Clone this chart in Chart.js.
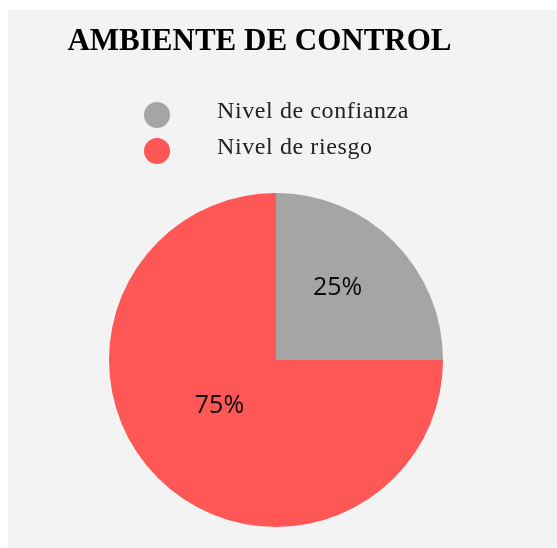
<!DOCTYPE html>
<html>
<head>
<meta charset="utf-8">
<script src="https://cdn.jsdelivr.net/npm/chart.js@4/dist/chart.umd.min.js"></script>
<style>
    body { margin: 0; background: #fff; }
    #box { position: absolute; left: 8px; top: 10px; width: 549px; height: 538px; background: #f3f3f3; }
    #titulo { position: absolute; left: 0; top: 24px; width: 519px; text-align: center;
        font: bold 31px "Liberation Serif", serif; line-height: 31px; color: #000; }
    .dot { position: absolute; left: 144px; width: 26px; height: 26px; border-radius: 50%; }
    .txt { position: absolute; left: 217px; white-space: nowrap; font: 24px "Liberation Serif", serif;
        line-height: 24px; letter-spacing: 0.6px; color: #222; }
    canvas { position: absolute; left: 0; top: 0; }
</style>
</head>
<body>
<div id="box"><canvas id="myChart" width="549" height="538"></canvas></div>
<div id="titulo"></div>
<div id="leyenda"></div>
<script>
    const titulo = 'AMBIENTE DE CONTROL';
    const etiquetas = ['Nivel de confianza', 'Nivel de riesgo'];
    const valores = [25, 75];
    const colores = ['#a5a5a5', '#ff5656'];

    // leyenda en html, alineada a la izquierda
    const leyenda = document.getElementById('leyenda');
    etiquetas.forEach((et, i) => {
        const top = 102 + i * 36;
        leyenda.innerHTML += '<div class="dot" style="top:' + top + 'px;background:' + colores[i] + '"></div>' +
            '<div class="txt" style="top:' + (top - 3.6) + 'px">' + et + '</div>';
    });
    document.getElementById('titulo').textContent = titulo;

    // porcentajes dentro de cada sector
    const porcentajes = {
        id: 'porcentajes',
        afterDatasetsDraw(chart) {
            const ctx = chart.ctx;
            const total = valores.reduce((a, b) => a + b, 0);
            ctx.save();
            ctx.font = '25px "Open Sans", sans-serif';
            ctx.fillStyle = '#0a0a0a';
            ctx.textAlign = 'center';
            ctx.textBaseline = 'middle';
            chart.getDatasetMeta(0).data.forEach((arc, i) => {
                const p = arc.tooltipPosition();
                ctx.fillText(Math.round(valores[i] / total * 100) + '%', p.x + 2.5, p.y - 13);
            });
            ctx.restore();
        }
    };

    const ctx = document.getElementById('myChart').getContext('2d');
    const myChart = new Chart(ctx, {
        type: 'pie',
        data: {
            labels: etiquetas,
            datasets: [{
                data: valores,
                backgroundColor: colores,
                borderWidth: 0
            }]
        },
        options: {
            responsive: false,
            animation: false,
            layout: {
                padding: { top: 183, bottom: 21, left: 101, right: 114 }
            },
            plugins: {
                legend: { display: false },
                tooltip: { enabled: false }
            }
        },
        plugins: [porcentajes]
    });
</script>
</body>
</html>
